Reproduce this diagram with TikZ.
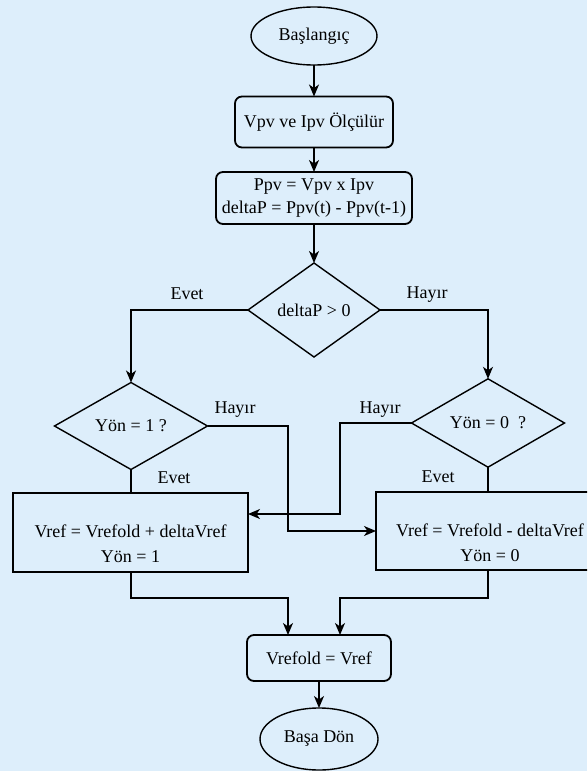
\documentclass[tikz,border=0pt]{standalone}
\usepackage{fontspec}
\setmainfont{Liberation Serif}
\usetikzlibrary{shapes.geometric,arrows.meta,calc}
\definecolor{bgc}{RGB}{221,238,251}
\begin{document}
\begin{tikzpicture}[x=1pt,y=-1pt,
  font=\fontsize{18}{23}\selectfont,
  every node/.style={inner sep=0pt, outer sep=0pt},
  term/.style={ellipse, draw, line width=1.4pt},
  proc/.style={rectangle, rounded corners=7pt, draw, line width=1.8pt, align=center},
  dec/.style={diamond, draw, line width=1.4pt},
  sbox/.style={rectangle, draw, line width=1.8pt, align=center, font=\fontsize{18}{25}\selectfont},
  arr/.style={-{Stealth[length=12pt,width=10pt,inset=3.5pt]}, line width=1.4pt},
  ln/.style={line width=1.4pt},
  lbl/.style={}]
\path[use as bounding box, fill=bgc] (0,0) rectangle (587,771);
\clip (0,0) rectangle (587,771);

\node[term, minimum width=126pt, minimum height=58pt] (start) at (314,36) {Başlangıç};
\node[proc, minimum width=158pt, minimum height=51pt] (b1) at (314,122) {Vpv ve Ipv Ölçülür};
\node[proc, minimum width=196pt, minimum height=52pt] (b2) at (314,198) {Ppv = Vpv x Ipv\\deltaP = Ppv(t) - Ppv(t-1)};
\node[dec, minimum width=132pt, minimum height=94pt] (d1) at (314,310) {deltaP > 0};
\node[dec, minimum width=153pt, minimum height=87pt] (d2) at (131,426) {Yön = 1 ?};
\node[dec, minimum width=153pt, minimum height=88pt] (d3) at (488,423) {Yön = 0\ \ ?};
\node[sbox, minimum width=235pt, minimum height=79pt] (bl) at (130.5,532.5) {\strut\\Vref = Vrefold + deltaVref\\Yön = 1\strut};
\node[sbox, minimum width=228pt, minimum height=78pt] (br) at (490,531) {\strut\\Vref = Vrefold - deltaVref\\Yön = 0\strut};
\node[proc, minimum width=144pt, minimum height=46pt] (vf) at (319,658) {Vrefold = Vref};
\node[term, minimum width=118pt, minimum height=62pt] (stop) at (319,739) {Başa Dön};

\node[lbl] (lE1) at (187,294) {Evet};
\node[lbl] (lH1) at (427,295) {Hayır};
\node[lbl] (lH2) at (235,410) {Hayır};
\node[lbl] (lE2) at (174,478) {Evet};
\node[lbl] (lH3) at (380,410) {Hayır};
\node[lbl] (lE3) at (438,477) {Evet};

\coordinate (h1) at (288,531);
\coordinate (h2) at (340,514);
\coordinate (m2) at (288,598);
\coordinate (m3) at (340,598);

\draw[arr] (start) -- (b1);
\draw[arr] (b1) -- (b2);
\draw[arr] (b2) -- (d1);
\draw[arr] (d1.west) -| (d2.north);
\draw[arr] (d1.east) -| (d3.north);
\draw[ln] (d2.south) -- (d2.south |- bl.north);
\draw[ln] (d3.south) -- (d3.south |- br.north);
\draw[arr] (d2.east) -| (h1) -- (br.west);
\draw[arr] (d3.west) -| (h2) -- (h2 -| bl.east);
\draw[arr] (d2.south |- bl.south) |- (m2) -- (m2 |- vf.north);
\draw[arr] (d3.south |- br.south) |- (m3) -- (m3 |- vf.north);
\draw[arr] (vf) -- (stop);
\end{tikzpicture}
\end{document}
